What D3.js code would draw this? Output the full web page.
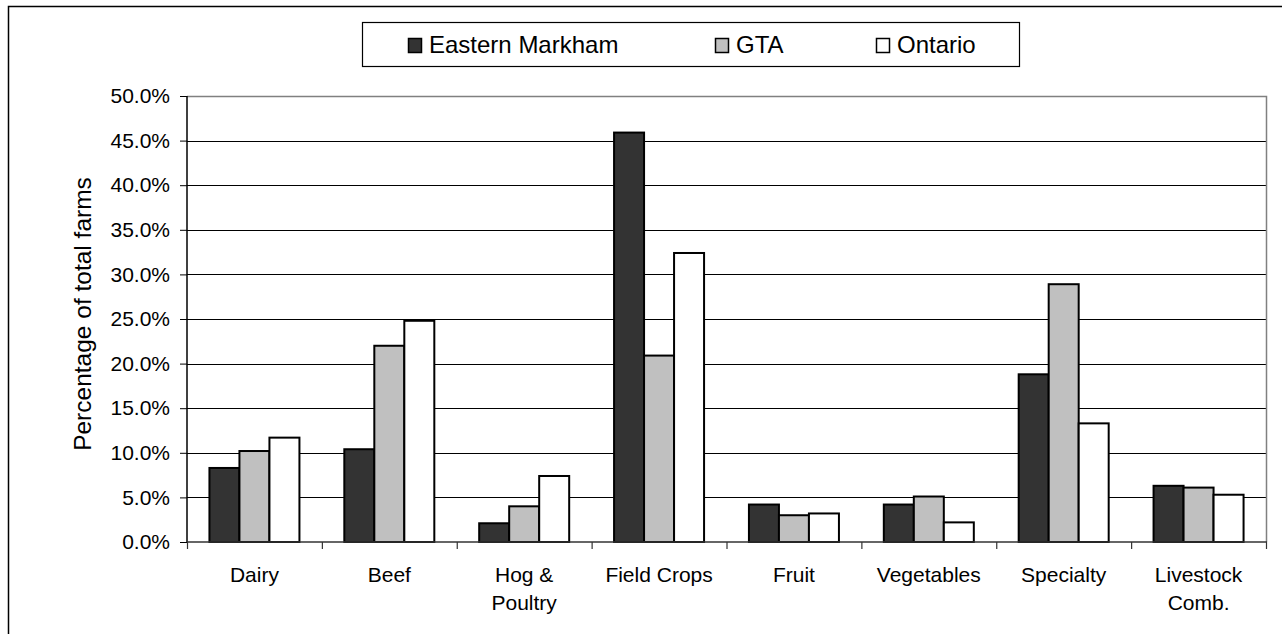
<!DOCTYPE html>
<html>
<head>
<meta charset="utf-8">
<script src="https://cdn.jsdelivr.net/npm/d3@7"></script>
<style>
  body { margin: 0; background: #fff; }
  svg { display: block; font-family: "Liberation Sans", Arial, sans-serif; }
</style>
</head>
<body>
<div id="chart"></div>
<script>
`use strict`;

const categories = [[`Dairy`], [`Beef`], [`Hog &`, `Poultry`], [`Field Crops`], [`Fruit`], [`Vegetables`], [`Specialty`], [`Livestock`, `Comb.`]];
const seriesNames = [`Eastern Markham`, `GTA`, `Ontario`];
const easternMarkham = [8.3, 10.4, 2.1, 45.9, 4.2, 4.2, 18.8, 6.3];
const gta = [10.2, 22.0, 4.0, 20.9, 3.0, 5.1, 28.9, 6.1];
const ontario = [11.7, 24.8, 7.4, 32.4, 3.2, 2.2, 13.3, 5.3];
const yTicks = [0, 5, 10, 15, 20, 25, 30, 35, 40, 45, 50];

(function () {

  const W = 1282, H = 634;
  const left = 187, right = 1266, top = 96, bottom = 542;
  const fills = [`#333333`, `#c0c0c0`, `#ffffff`];
  const series = [easternMarkham, gta, ontario];

  let svg = d3.select(`#chart`).append(`svg`)
    .attr(`width`, W)
    .attr(`height`, H);

  // outer frame, runs past the page edge
  svg.append(`rect`)
    .attr(`x`, 8.5).attr(`y`, 6.5)
    .attr(`width`, 1400).attr(`height`, 800)
    .attr(`fill`, `#fff`)
    .attr(`stroke`, `#000`)
    .style(`stroke-width`, 1.5);

  let x0 = d3.scaleBand()
    .domain(d3.range(categories.length))
    .range([left, right]);

  let x1 = d3.scaleBand()
    .domain(d3.range(series.length))
    .range([0, 90]);

  let y = d3.scaleLinear()
    .domain([0, 50])
    .range([bottom, top]);

  // gridlines
  svg.append(`g`).selectAll(`line`).data(yTicks.filter(t => t > 0 && t < 50))
    .enter()
    .append(`line`)
    .attr(`x1`, left).attr(`x2`, right)
    .attr(`y1`, d => Math.round(y(d)) + .5)
    .attr(`y2`, d => Math.round(y(d)) + .5)
    .attr(`stroke`, `#000`)
    .style(`stroke-width`, 1);

  // plot border top / right
  svg.append(`path`)
    .attr(`d`, `M${left},${top + .5}H${right + .5}V${bottom}`)
    .attr(`fill`, `none`)
    .attr(`stroke`, `#808080`)
    .style(`stroke-width`, 1.5);

  // bars
  let groups = svg.append(`g`).selectAll(`g`).data(categories)
    .enter()
    .append(`g`)
    .attr(`transform`, (d, i) => `translate(${x0(i) + (x0.bandwidth() - 90) / 2},0)`);

  groups.selectAll(`rect`)
    .data((d, i) => series.map((s, k) => ({k: k, v: s[i]})))
    .enter()
    .append(`rect`)
    .attr(`x`, d => x1(d.k))
    .attr(`width`, x1.bandwidth())
    .attr(`y`, d => y(d.v))
    .attr(`height`, d => bottom - y(d.v))
    .attr(`fill`, d => fills[d.k])
    .attr(`stroke`, `#000`)
    .style(`stroke-width`, 2);

  // y axis
  let yAxis = svg.append(`g`)
    .attr(`transform`, `translate(${left},0)`)
    .call(d3.axisLeft(y).tickValues(yTicks).tickSize(7).tickPadding(10)
      .tickFormat(d => d.toFixed(1) + `%`));

  yAxis.select(`.domain`).attr(`stroke`, `#000`).style(`stroke-width`, 1.5).attr(`d`, `M0,${top}V${bottom}`);
  yAxis.selectAll(`.tick line`).attr(`stroke`, `#000`);
  yAxis.selectAll(`text`)
    .attr(`fill`, `#000`)
    .style(`font-size`, `21px`)
    .style(`font-family`, `"Liberation Sans", Arial, sans-serif`);

  // x axis
  let xAxis = svg.append(`g`)
    .attr(`transform`, `translate(0,${bottom})`);

  xAxis.append(`line`)
    .attr(`x1`, left).attr(`x2`, right + 1)
    .attr(`stroke`, `#333`)
    .style(`stroke-width`, 1.5);

  xAxis.selectAll(`line.tk`).data(d3.range(categories.length + 1))
    .enter()
    .append(`line`)
    .attr(`class`, `tk`)
    .attr(`x1`, i => i < categories.length ? x0(i) + .5 : right + .5)
    .attr(`x2`, i => i < categories.length ? x0(i) + .5 : right + .5)
    .attr(`y1`, 0).attr(`y2`, 7)
    .attr(`stroke`, `#333`)
    .style(`stroke-width`, 1.2);

  let labels = xAxis.selectAll(`text`).data(categories)
    .enter()
    .append(`text`)
    .attr(`text-anchor`, `middle`)
    .attr(`x`, (d, i) => x0(i) + x0.bandwidth() / 2)
    .attr(`y`, 39.5)
    .style(`font-size`, `21px`)
    .attr(`fill`, `#000`);

  labels.selectAll(`tspan`).data(d => d)
    .enter()
    .append(`tspan`)
    .attr(`x`, function () { return d3.select(this.parentNode).attr(`x`); })
    .attr(`dy`, (d, i) => i === 0 ? 0 : 28.5)
    .text(d => d);

  // y title
  svg.append(`text`)
    .attr(`transform`, `translate(91,314) rotate(-90)`)
    .attr(`text-anchor`, `middle`)
    .style(`font-size`, `24.5px`)
    .attr(`fill`, `#000`)
    .text(`Percentage of total farms`);

  // legend
  let legend = svg.append(`g`);

  legend.append(`rect`)
    .attr(`x`, 362.5).attr(`y`, 22.5)
    .attr(`width`, 657).attr(`height`, 44)
    .attr(`fill`, `#fff`)
    .attr(`stroke`, `#000`)
    .style(`stroke-width`, 1.2);

  const legendX = [408, 715, 876];

  let items = legend.selectAll(`g`).data(seriesNames)
    .enter()
    .append(`g`)
    .attr(`transform`, (d, i) => `translate(${legendX[i]},0)`);

  items.append(`rect`)
    .attr(`x`, .5).attr(`y`, 38.5)
    .attr(`width`, 13).attr(`height`, 14)
    .attr(`fill`, (d, i) => fills[i])
    .attr(`stroke`, `#000`)
    .style(`stroke-width`, 1.5);

  items.append(`text`)
    .attr(`x`, 21)
    .attr(`y`, 53)
    .style(`font-size`, `24px`)
    .attr(`fill`, `#000`)
    .text(d => d);

})();
</script>
</body>
</html>
